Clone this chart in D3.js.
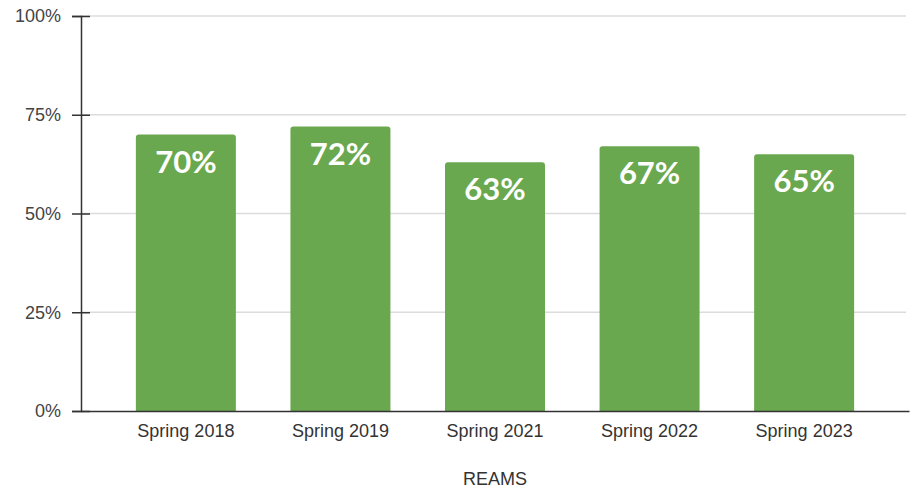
<!DOCTYPE html>
<html>
<head>
<meta charset="utf-8">
<script src="https://cdn.jsdelivr.net/npm/d3@7"></script>
<style>
  body { margin: 0; background: #fff; }
  svg { display: block; }
</style>
</head>
<body>
<svg width="914" height="494"></svg>
<script>
// data
const terms = ["Spring 2018", "Spring 2019", "Spring 2021", "Spring 2022", "Spring 2023"];
const rates = [70, 72, 63, 67, 65];
const yTicks = [0, 25, 50, 75, 100];

var svg = d3.select("svg"),
  width = +svg.attr("width"),
  height = +svg.attr("height");

var margin = {left: 81, right: 5, top: 16, bottom: 83};

var x = d3.scaleBand()
  .domain(terms)
  .range([margin.left, 909])
  .paddingInner(0.353)
  .paddingOuter(0.355);

var y = d3.scaleLinear()
  .domain([0, 100])
  .range([height - margin.bottom, margin.top]);

// gridlines
svg.append("g")
  .selectAll("line")
  .data(yTicks.filter(d => d > 0))
  .enter()
  .append("line")
    .attr("x1", margin.left)
    .attr("x2", 906)
    .attr("y1", d => y(d))
    .attr("y2", d => y(d))
    .attr("stroke", "#dcdcdc")
    .attr("stroke-width", 1.5);

// bars with rounded tops
var bw = x.bandwidth(), r = 3;
svg.append("g")
  .selectAll("path")
  .data(rates)
  .enter()
  .append("path")
    .attr("fill", "#6aa84f")
    .attr("d", function(d, i) {
      var x0 = x(terms[i]), y0 = y(d), y1 = y(0);
      return "M" + x0 + "," + y1 +
        "V" + (y0 + r) +
        "Q" + x0 + "," + y0 + " " + (x0 + r) + "," + y0 +
        "H" + (x0 + bw - r) +
        "Q" + (x0 + bw) + "," + y0 + " " + (x0 + bw) + "," + (y0 + r) +
        "V" + y1 + "Z";
    });

// value labels
svg.append("g")
  .selectAll("text")
  .data(rates)
  .enter()
  .append("text")
    .attr("x", (d, i) => x(terms[i]) + bw / 2)
    .attr("y", d => y(d) + 38)
    .attr("text-anchor", "middle")
    .attr("fill", "#fff")
    .style("font-family", "Lato, 'Open Sans', sans-serif")
    .style("font-weight", "bold")
    .style("font-size", "31px")
    .text(d => d + "%");

// y axis
var yAxis = svg.append("g")
  .attr("transform", "translate(" + margin.left + ",0)")
  .call(d3.axisLeft(y).tickValues(yTicks).tickFormat(d => d + "%").tickSize(9).tickPadding(11));
yAxis.select(".domain").attr("stroke", "#333").attr("stroke-width", 1.5);
yAxis.selectAll(".tick line").attr("stroke", "#333").attr("stroke-width", 1.5).attr("x2", 9).attr("x1", -9);
yAxis.selectAll("text")
  .attr("fill", "#444")
  .style("font-family", "'Liberation Sans', Arial, sans-serif")
  .style("font-size", "18px");

// x axis
var xAxis = svg.append("g")
  .attr("transform", "translate(0," + y(0) + ")")
  .call(d3.axisBottom(x).tickSize(0).tickPadding(13));
xAxis.select(".domain").attr("stroke", "#333").attr("stroke-width", 1.5);
xAxis.selectAll("text")
  .attr("fill", "#333")
  .style("font-family", "'Liberation Sans', Arial, sans-serif")
  .style("font-size", "18px");

// axis title
svg.append("text")
  .attr("x", (margin.left + 909) / 2)
  .attr("y", 485)
  .attr("text-anchor", "middle")
  .attr("fill", "#333")
  .style("font-family", "'Liberation Sans', Arial, sans-serif")
  .style("font-size", "18px")
  .text("REAMS");
</script>
</body>
</html>
